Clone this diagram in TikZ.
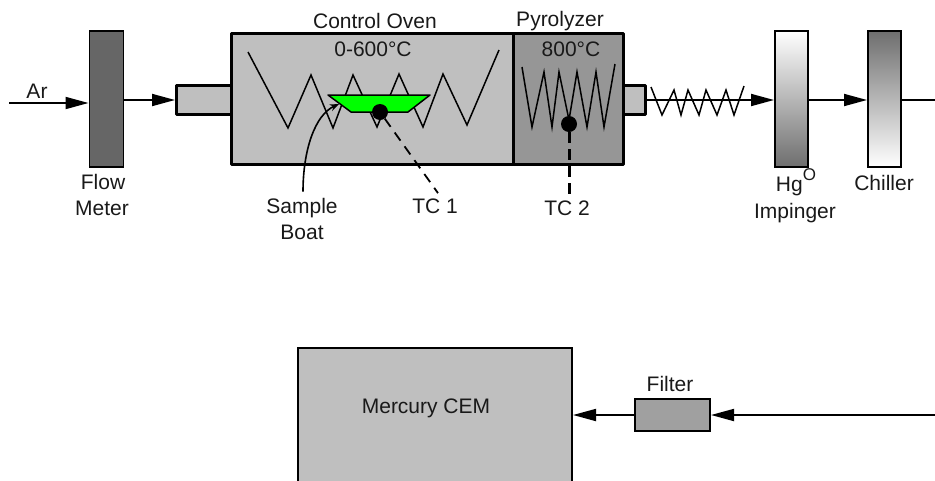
\documentclass[tikz,border=0pt]{standalone}
\usepackage{fontspec}
\setmainfont{Liberation Sans}
\usetikzlibrary{arrows.meta,calc}
\tikzset{
  x=1pt,y=-1pt,
  lbl/.style={font=\fontsize{21}{25}\selectfont,inner sep=0pt,text=black!90,anchor=base},
  box/.style={draw=black,rectangle,inner sep=0pt,outer sep=0pt,line width=1.5pt},
  heavybox/.style={box,line width=3pt,fill=ovengray,line join=round},
  flow/.style={line width=1.8pt,-{Triangle[length=23pt,width=12pt]},shorten >=1pt},
  zig/.style={line width=1.5pt,line join=miter},
  dot/.style={circle,fill=black,inner sep=0pt,minimum size=16pt},
}
\definecolor{ovengray}{HTML}{BFBFBF}
\definecolor{pyrogray}{HTML}{969696}
\definecolor{metergray}{HTML}{666666}
\definecolor{filtergray}{HTML}{A0A0A0}
\definecolor{gradgray}{HTML}{6E6E6E}
\begin{document}
\begin{tikzpicture}
\useasboundingbox (0,0) rectangle (935,480);
\clip (0,0) rectangle (935,480);
% boxes
\node[box,fill=metergray,minimum width=34pt,minimum height=136pt] (fm) at (106.5,99) {};
\node[heavybox,minimum width=56pt,minimum height=29pt] (stubL) at (204,100) {};
\node[heavybox,minimum width=22pt,minimum height=29pt] (stubR) at (634,100) {};
\node[heavybox,minimum width=282pt,minimum height=131pt] (oven) at (372,98.5) {};
\node[heavybox,fill=pyrogray,minimum width=110pt,minimum height=131pt] (pyro) at (568,98.5) {};
\node[box,top color=white,bottom color=gradgray,minimum width=33pt,minimum height=136pt] (imp) at (791.5,99) {};
\node[box,top color=gradgray,bottom color=white,minimum width=33pt,minimum height=136pt] (chill) at (884.5,99) {};
\node[box,fill=ovengray,minimum width=274pt,minimum height=172pt] (cem) at (435,434) {};
\node[box,fill=filtergray,minimum width=75pt,minimum height=32pt] (filt) at (672.5,415) {};
% free ends
\coordinate (arin) at (9,103);
\coordinate (chillout) at (935,100);
\coordinate (filtin) at (935,415);
% heaters
\draw[zig] (248,52) -- (288,128) -- (311,75) -- (333,128) -- (353,75) -- (377,127) -- (399,74) -- (423,127) -- (443,74) -- (467,125) -- (499,50);
\draw[zig] (522,67) -- (532,127) -- (544,72) -- (552,127) -- (559,72) -- (569,120) -- (577,72) -- (587,127) -- (596,72) -- (604,127) -- (615,64);
% sample boat
\draw[fill=green,line width=1.5pt,line join=round] (328,95) -- (430,95) -- (408,112) -- (351,112) -- cycle;
\coordinate (boatedge) at (339,104);
\node[dot] (tc1) at (380,112) {};
\node[dot] (tc2) at (569,124) {};
% connectors
\draw[flow] (arin) -- (arin -| fm.west);
\draw[flow] (fm.east |- stubL.west) -- (stubL.west);
\draw[flow] (stubR.east) -- (imp.west |- stubR.east);
\draw[flow] (imp.east |- stubR.east) -- (chill.west |- stubR.east);
\draw[line width=1.8pt] (chill.east |- chillout) -- (chillout);
\draw[zig] (651,87) -- (662,115) -- (674,90) -- (681,115) -- (688,90) -- (699,115) -- (706,90) -- (717,115) -- (726,90) -- (734,115) -- (744,86);
\draw[flow] (filtin) -- (filt.east);
\draw[flow] (filt.west) -- (cem.east |- filt.west);
% labels
\node[lbl] (ar) at (37,98) {Ar};
\node[lbl] (flow) at (103,189) {Flow};
\node[lbl] (meter) at (102,215) {Meter};
\node[lbl] (ovenlbl) at (375,28) {Control Oven};
\node[lbl] (ovent) at (373,56) {0-600°C};
\node[lbl] (pyrolbl) at (560,26) {Pyrolyzer};
\node[lbl] (pyrot) at (571,56) {800°C};
\node[lbl] (sample) at (302,213) {Sample};
\node[lbl] (boat) at (302,239) {Boat};
\node[lbl] (tc1l) at (435,213) {TC 1};
\node[lbl] (tc2l) at (567,215) {TC 2};
\node[lbl] (hg) at (796,191) {Hg\raisebox{0.5em}{\fontsize{17}{20}\selectfont O}};
\node[lbl] (impl) at (795,218) {Impinger};
\node[lbl] (chl) at (884,190) {Chiller};
\node[lbl] (cemt) at (426,413) {Mercury CEM};
\node[lbl] (filtl) at (670,391) {Filter};
% leaders
\draw[line width=1.6pt,-{Stealth[length=9pt,width=7pt]}] ($(sample.north)+(1,-6)$) .. controls (303,150) and (315,115) .. (boatedge);
\draw[line width=1.8pt,dash pattern=on 10pt off 7pt] (tc1) -- ($(tc1l.north)+(3,-5)$);
\draw[line width=3pt,dash pattern=on 11pt off 6pt] (tc2) -- ($(tc2l.north)+(2,-5)$);
\end{tikzpicture}
\end{document}
